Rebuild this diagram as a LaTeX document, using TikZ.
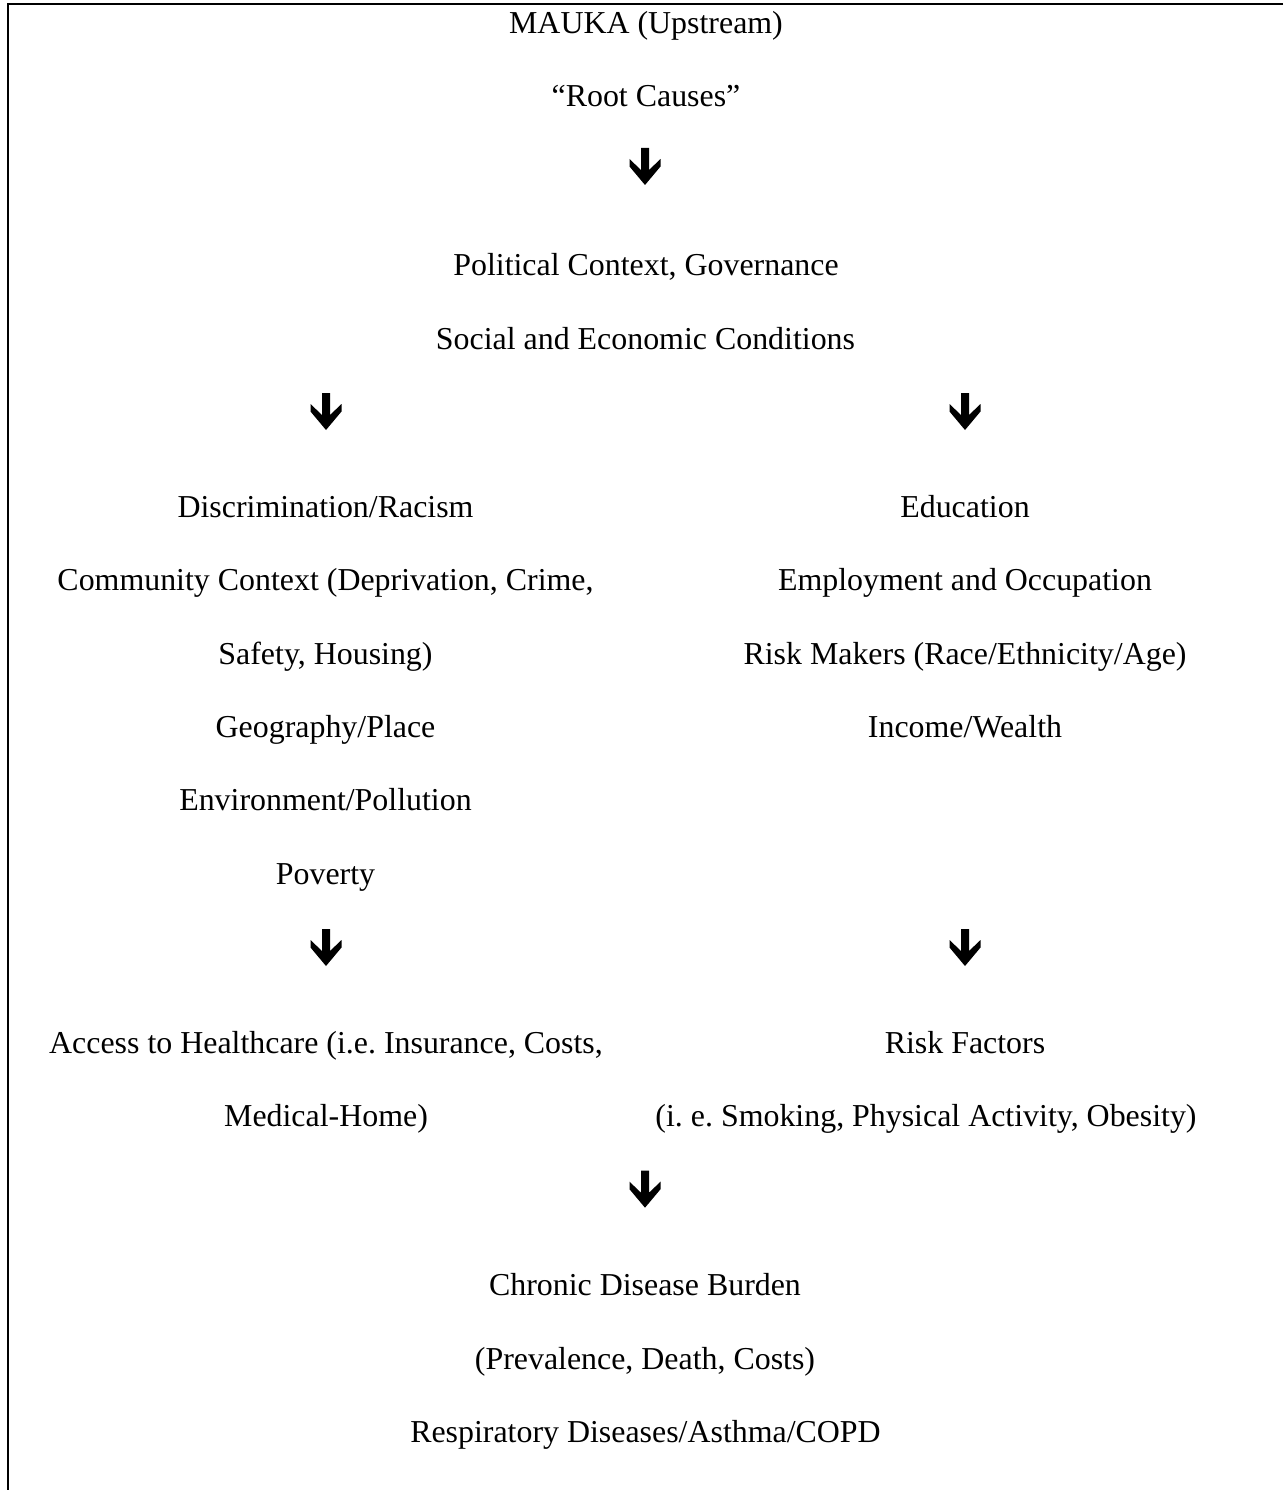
\documentclass[tikz,border=0pt]{standalone}
\usepackage{fontspec}
\setmainfont{Liberation Serif}
\frenchspacing
\begin{document}
\begin{tikzpicture}[x=1pt,y=-1pt,
  txt/.style={anchor=base,inner sep=0pt,font=\fontsize{31.9}{38}\selectfont},
  frameline/.style={line width=2pt,line join=miter},
  downarrow/.pic={\fill[black] (-4,0) -- (4,0) -- (4,22) -- (15.5,11) -- (15.5,18.5) -- (0,37) -- (-15.5,18.5) -- (-15.5,11) -- (-4,22) -- cycle;}]
\useasboundingbox (0,0) rectangle (1283,1490);
% frame
\coordinate (tr) at (1283,4.2);
\coordinate (tl) at (8,4.2);
\coordinate (bl) at (8,1490);
\draw[frameline] (tr) -- (tl) -- (bl);
% top block
\node[txt] (mauka) at (646,33.3) {MAUKA (Upstream)};
\node[txt] (root) at (646,107) {“Root Causes”};
\pic (a1) at (645,148) {downarrow};
\node[txt] (pol) at (646,275.7) {Political Context, Governance};
\node[txt] (soc) at (645.5,349.1) {Social and Economic Conditions};
\pic (a2l) at (326,393) {downarrow};
\pic (a2r) at (965,393) {downarrow};
% left column
\node[txt] (l1) at (325.5,517.3) {Discrimination/Racism};
\node[txt] (l2) at (325.5,590.7) {Community Context (Deprivation, Crime,};
\node[txt] (l3) at (325.5,664.1) {Safety, Housing)};
\node[txt] (l4) at (325.5,737.5) {Geography/Place};
\node[txt] (l5) at (325.5,810.9) {Environment/Pollution};
\node[txt] (l6) at (325.5,884.3) {Poverty};
% right column
\node[txt] (r1) at (965,517.3) {Education};
\node[txt] (r2) at (965,590.7) {Employment and Occupation};
\node[txt] (r3) at (965,664.1) {Risk Makers (Race/Ethnicity/Age)};
\node[txt] (r4) at (965,737.5) {Income/Wealth};
\pic (a3l) at (326,929) {downarrow};
\pic (a3r) at (965,929) {downarrow};
\node[txt] (l7) at (326,1053.3) {Access to Healthcare (i.e. Insurance, Costs,};
\node[txt] (l8) at (326,1126.7) {Medical-Home)};
\node[txt] (r5) at (965,1053.3) {Risk Factors};
\node[txt] (r6) at (926,1126.7) {(i. e. Smoking, Physical Activity, Obesity)};
\pic (a4) at (645,1170.7) {downarrow};
% bottom block
\node[txt] (b1) at (645,1295.7) {Chronic Disease Burden};
\node[txt] (b2) at (645,1369.1) {(Prevalence, Death, Costs)};
\node[txt] (b3) at (645.5,1442.5) {Respiratory Diseases/Asthma/COPD};
\end{tikzpicture}
\end{document}
